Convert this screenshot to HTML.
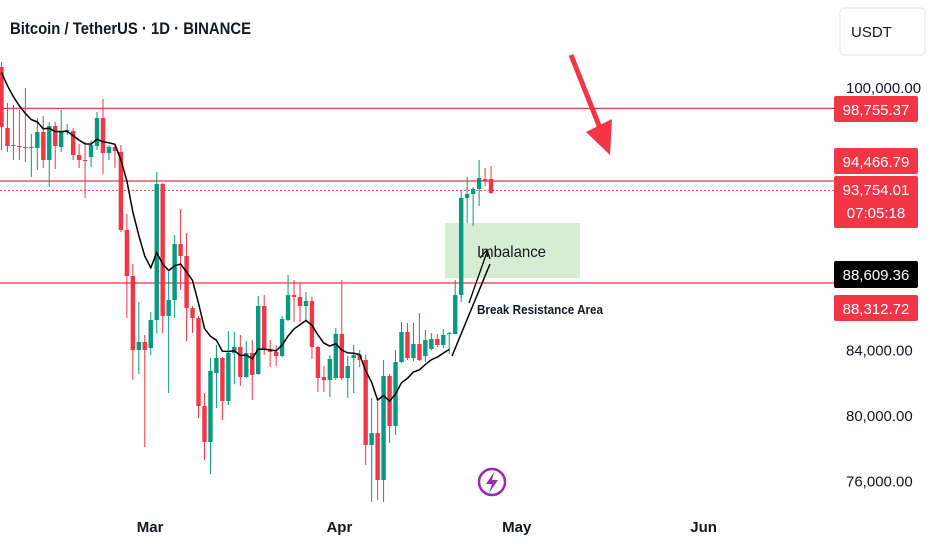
<!DOCTYPE html>
<html><head><meta charset="utf-8"><style>
html,body{margin:0;padding:0;background:#fff;width:932px;height:550px;overflow:hidden}
svg{display:block;font-family:"Liberation Sans",sans-serif}
</style></head><body>
<svg id="chart" width="932" height="550">
<rect x="0" y="0" width="932" height="550" fill="#fff"/>
<text x="10" y="34" font-size="17" font-weight="bold" fill="#131722" textLength="241" lengthAdjust="spacingAndGlyphs">Bitcoin / TetherUS · 1D · BINANCE</text>
<rect x="840" y="8" width="85" height="47" rx="4" fill="#fff" stroke="#e0e3eb"/>
<text x="851" y="37" font-size="15" fill="#131722">USDT</text>
<rect x="445" y="223" width="135" height="55" fill="#d6edd3"/>
<g id="levels"></g>
<g id="candles"></g>
<polyline id="ma" fill="none" stroke="#000" stroke-width="1.5"/>
<line x1="452" y1="356" x2="490" y2="264" stroke="#000" stroke-width="1.5"/>
<line x1="469" y1="303" x2="487" y2="252" stroke="#000" stroke-width="1.3"/>
<polyline points="480,258 487,250 490,259" fill="none" stroke="#000" stroke-width="1.3"/>
<text x="477" y="257" font-size="16" fill="#131722" textLength="69" lengthAdjust="spacingAndGlyphs">Imbalance</text>
<text x="477" y="314" font-size="13" font-weight="bold" fill="#131722" textLength="126" lengthAdjust="spacingAndGlyphs">Break Resistance Area</text>
<g>
<line x1="571" y1="55" x2="600" y2="128" stroke="#f23645" stroke-width="5"/>
<polygon points="586,132 612,119 610,155" fill="#f23645"/>
</g>
<g>
<circle cx="492" cy="482" r="13" fill="none" stroke="#9c27b0" stroke-width="2.5"/>
<polygon points="494,472 486,484 492,484 489,493 498,480 492,480" fill="#9c27b0"/>
</g>
<g id="yaxis" font-size="15" fill="#131722"></g>
<g id="xaxis" font-size="15" font-weight="bold" fill="#131722"></g>
<g id="badges" font-size="15"></g>
</svg>
<script>
const opens=[101281,97560,96523,96462,96401,96340,96340,97316,95608,97682,96401,97377,97377,95913,95608,95791,96462,98170,96035,96401,96096,91338,88532,84018,84506,84140,85848,94144,86092,87068,90484,89752,86580,85970,80602,78406,82615,83530,80907,83835,84201,82371,83835,82554,86702,84018,83896,83652,85848,87373,87251,86702,87007,84201,82371,82188,82310,85002,82310,83530,83713,83408,78223,78955,76088,82432,79382,83286,85116,83530,84384,83652,84079,84689,84323,84994,84994,87373,93290,93534,93839,94449,94449];
const highs=[101586,99085,98963,98658,100000,97194,98170,98292,97926,97926,98658,97804,97560,96584,96706,96767,98536,99329,96523,96584,96523,92314,89264,86946,84933,86336,94876,94205,88776,91033,92619,91155,86702,86092,81395,83530,84323,83591,85177,85116,84933,84567,84628,87312,87373,84628,84323,86092,88593,88288,88105,87556,87251,84262,83042,83713,85360,88288,83652,84323,84018,83713,81090,80846,83408,82554,84018,85726,85665,85665,86275,85238,85055,84994,85299,85116,88288,93717,94571,93961,95608,95120,95242];
const lows=[96218,96096,95608,95608,95486,94571,94998,95120,93961,95059,96096,97133,95608,95120,93290,95181,96218,94754,95608,95120,91216,85970,82188,82554,78101,83713,85034,85034,81395,85970,87678,84567,85055,79870,77308,76454,80480,79748,80663,81944,81822,82310,80968,82493,83713,82981,83042,83591,85787,85726,85726,85848,83469,81456,81456,81151,82188,82188,81090,81395,82981,77003,74746,74868,74746,78345,78833,83225,83408,83347,83347,83286,84018,84201,84140,83774,84994,86946,91765,91582,92802,94022,93534];
const closes=[97621,96462,96462,96401,96340,96401,97316,95608,97682,96462,97316,97438,95913,95608,95547,96523,98170,96035,96401,96157,91338,88532,84018,84506,84018,85848,94144,86092,87068,90484,89752,86580,85970,80602,78406,82737,83530,80907,83835,84201,82371,83835,82493,86702,84018,83896,83652,85909,87373,87251,86702,87007,84201,82310,82188,83469,85002,82310,83042,83713,83408,78223,78955,76088,82432,79382,83286,85116,83530,84384,83408,84628,84689,84323,84933,85055,87373,93290,93534,93839,94510,94327,93595];
const yTicks=[100000,96000,84000,80000,76000];
const xLabels=["Mar","Apr","May","Jun"];
const xLabelIdx=[24.9,56.6,86.3,117.6];
const levelPrices=[98755.37,94327,88105];
const currentPrice=93754.01;
const maPeriod=10, maEndIdx=75;

const NS="http://www.w3.org/2000/svg";
const Y=p=>88+(100000-p)/61;
const X=i=>1.5+i*5.97;
function mk(tag,attrs,parent){const e=document.createElementNS(NS,tag);for(const k in attrs)e.setAttribute(k,attrs[k]);parent.appendChild(e);return e;}
const lv=document.getElementById('levels');
levelPrices.forEach(p=>{const l=mk('line',{x1:0,x2:834,y1:Y(p),y2:Y(p),stroke:'#f23645','stroke-width':1.3},lv);

});
const cl=mk('line',{x1:0,x2:834,y1:Y(currentPrice),y2:Y(currentPrice),stroke:'#f23645','stroke-width':1,'stroke-dasharray':'2,2'},lv);


const cg=document.getElementById('candles');
for(let i=0;i<opens.length;i++){
  const up=closes[i]>=opens[i],col=up?'#089981':'#f23645',x=X(i);
  const g=mk('g',{},cg);
  
  
  mk('line',{x1:x,x2:x,y1:Y(highs[i]),y2:Y(lows[i]),stroke:col,'stroke-width':1},g);
  const t=Y(Math.max(opens[i],closes[i])),b=Y(Math.min(opens[i],closes[i]));
  mk('rect',{x:x-2.2,y:t,width:4.4,height:Math.max(1,b-t),fill:col},g);
}
let pts=[],e=closes[0];const k=2/(maPeriod+1);
for(let i=0;i<=maEndIdx;i++){e=i===0?(opens[0]+closes[0])/2+1500:closes[i]*k+e*(1-k);pts.push(X(i).toFixed(1)+','+Y(e).toFixed(1));}
document.getElementById('ma').setAttribute('points',pts.join(' '));
const ya=document.getElementById('yaxis');
yTicks.forEach(p=>{const t=mk('text',{x:846,y:Y(p)+5},ya);t.textContent=p.toLocaleString('en-US',{minimumFractionDigits:2});

});
const xa=document.getElementById('xaxis');
xLabels.forEach((s,j)=>{const t=mk('text',{x:X(xLabelIdx[j]),y:532,'text-anchor':'middle'},xa);t.textContent=s;

});
const bd=document.getElementById('badges');
const badges=[[96,26,'#f23645',['98,755.37']],[148,26,'#f23645',['94,466.79']],[176,52,'#f23645',['93,754.01','07:05:18']],[261,27,'#000',['88,609.36']],[295,26,'#f23645',['88,312.72']]];
badges.forEach(b=>{const g=mk('g',{},bd);


mk('rect',{x:834,y:b[0],width:84,height:b[1],rx:2,fill:b[2]},g);
b[3].forEach((s,j)=>{const t=mk('text',{x:876,y:b[0]+19+j*23,'text-anchor':'middle',fill:'#fff'},g);t.textContent=s;});});
</script>
</body></html>
